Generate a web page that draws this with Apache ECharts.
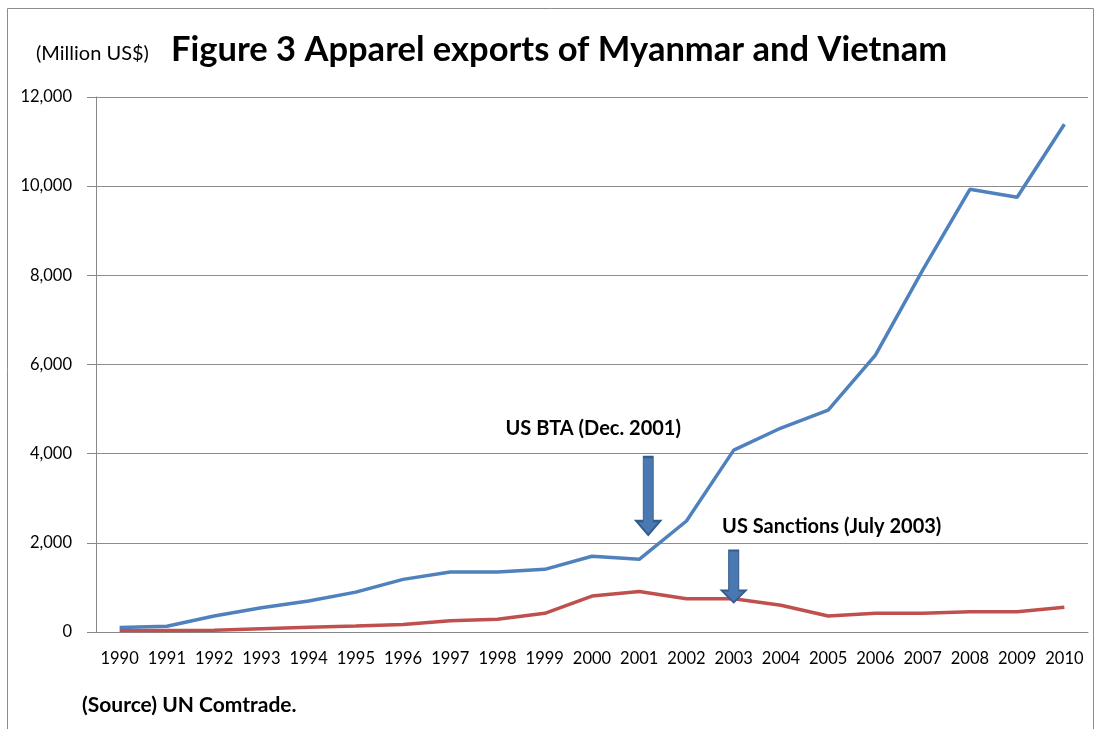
<!DOCTYPE html>
<html>
<head>
<meta charset="utf-8">
<title>Figure 3 Apparel exports of Myanmar and Vietnam</title>
<script src="https://cdn.jsdelivr.net/npm/echarts@6/dist/echarts.min.js"></script>
<style>
  html, body { margin: 0; padding: 0; background: #fff; }
  #myCharts { width: 1104px; height: 729px; }
</style>
</head>
<body>
<div id="myCharts"></div>
<script>
// years on the x axis
const years = ['1990', '1991', '1992', '1993', '1994', '1995', '1996', '1997', '1998', '1999', '2000',
  '2001', '2002', '2003', '2004', '2005', '2006', '2007', '2008', '2009', '2010'];

// apparel exports, million US$
const vietnam = [100, 130, 360, 545, 695, 895, 1180, 1345, 1345, 1405, 1700,
  1630, 2490, 4080, 4575, 4975, 6210, 8115, 9930, 9750, 11390];
const myanmar = [35, 35, 40, 75, 105, 135, 170, 255, 285, 420, 805,
  910, 745, 745, 600, 360, 420, 420, 455, 455, 555];

// annotations: [year, arrow centre value, label]
const notes = [
  ['2001', 3050, 'US BTA (Dec. 2001)'],
  ['2003', 1245, 'US Sanctions (July 2003)']
];

const font = 'Lato, "Open Sans", sans-serif';
const arrow = 'path://M7,0L17,0L17,64L24,64L12,78L0,64L7,64Z';

let mychart = echarts.init(document.getElementById('myCharts'));

const option = {
  animation: false,
  textStyle: { fontFamily: font },
  title: {
    text: 'Figure 3 Apparel exports of Myanmar and Vietnam',
    left: 166,
    top: 27,
    textStyle: { fontSize: 34.5, fontWeight: 'bold', color: '#000', fontFamily: font }
  },
  grid: { left: 96, right: 16, top: 97, bottom: 97 },
  xAxis: {
    type: 'category',
    data: years,
    axisLine: { lineStyle: { color: '#888', width: 1 } },
    axisTick: { length: 8, lineStyle: { color: '#888' } },
    axisLabel: { color: '#000', fontSize: 16.5, margin: 18, interval: 0 }
  },
  yAxis: {
    type: 'value',
    min: 0,
    max: 12000,
    interval: 2000,
    axisLine: { show: true, lineStyle: { color: '#888', width: 1 } },
    axisTick: { show: true, length: 9, lineStyle: { color: '#888' } },
    axisLabel: {
      color: '#000', fontSize: 16.5, margin: 24,
      formatter: v => v.toLocaleString('en-US')
    },
    splitLine: { lineStyle: { color: '#8c8c8c', width: 1 } }
  },
  graphic: [
    {
      type: 'rect',
      shape: { x: 7.5, y: 8.5, width: 1086, height: 740 },
      style: { fill: 'none', stroke: '#8c8c8c', lineWidth: 1 },
      silent: true
    },
    {
      type: 'text', left: 36, top: 44,
      style: { text: '(Million US$)', fontSize: 20, fontFamily: font, fill: '#000' }
    },
    {
      type: 'text', left: 82, top: 695,
      style: { text: '(Source) UN Comtrade.', fontSize: 21, fontWeight: 'bold', fontFamily: font, fill: '#000' }
    }
  ],
  series: [
    {
      name: 'Vietnam',
      type: 'line',
      data: vietnam,
      symbol: 'none',
      lineStyle: { color: '#4f81bd', width: 3.5 },
      itemStyle: { color: '#4f81bd' },
      z: 3
    },
    {
      name: 'Myanmar',
      type: 'line',
      data: myanmar,
      symbol: 'none',
      lineStyle: { color: '#c0504d', width: 3.5 },
      itemStyle: { color: '#c0504d' },
      z: 2,
      markPoint: {
        symbol: arrow,
        symbolSize: [24, 78],
        itemStyle: { color: '#4a78b2', borderColor: '#355b8c', borderWidth: 1.5 },
        label: {
          show: true,
          position: 'top',
          color: '#000',
          fontSize: 20,
          fontWeight: 'bold',
          fontFamily: font
        },
        data: [
          {
            coord: [notes[0][0], notes[0][1]],
            symbolOffset: [9, 0],
            label: { formatter: notes[0][2], offset: [-55, -12] }
          },
          {
            coord: [notes[1][0], notes[1][1]],
            symbolSize: [24, 52],
            symbol: 'path://M7,0L17,0L17,40L24,40L12,52L0,40L7,40Z',
            label: { formatter: notes[1][2], offset: [98, -8] }
          }
        ]
      }
    }
  ]
};

mychart.setOption(option);
window.onresize = mychart.resize;
</script>
</body>
</html>
